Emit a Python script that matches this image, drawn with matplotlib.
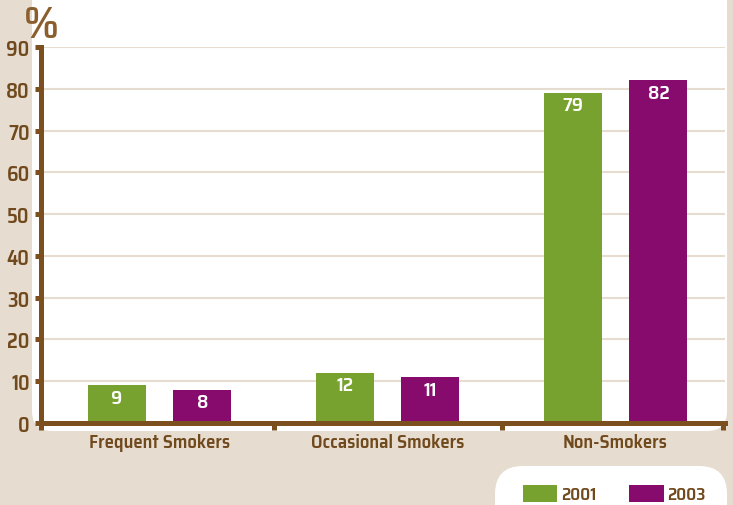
import matplotlib
matplotlib.use("Agg")
import matplotlib.pyplot as plt
from matplotlib.patches import FancyBboxPatch, Patch
import numpy as np

categories = ["Frequent Smokers", "Occasional Smokers", "Non-Smokers"]
years = ["2001", "2003"]
values_2001 = [9, 12, 79]
values_2003 = [8, 11, 82]
y_ticks = [0, 10, 20, 30, 40, 50, 60, 70, 80, 90]

BEIGE = "#e6dccf"
BROWN = "#7b4f1e"
TEXT = "#70491d"
GREEN = "#78a22f"
PURPLE = "#870b6d"

plt.rcParams["font.family"] = ["Saira SemiCondensed", "DejaVu Sans"]
plt.rcParams["font.weight"] = 600

fig = plt.figure(figsize=(7.33, 5.06), dpi=100, facecolor=BEIGE)

# white rounded panel behind the plot
panel = FancyBboxPatch((0.32, 0.74), 6.95, 5.0,
                       boxstyle="round,pad=0,rounding_size=0.2",
                       transform=fig.dpi_scale_trans, facecolor="white",
                       edgecolor="none", zorder=0)
fig.patches.append(panel)

# white pill behind the legend
legbox = FancyBboxPatch((4.95, -0.4), 2.32, 0.79,
                        boxstyle="round,pad=0,rounding_size=0.28",
                        transform=fig.dpi_scale_trans, facecolor="white",
                        edgecolor="none", zorder=0)
fig.patches.append(legbox)

ax = fig.add_axes([40.5 / 733, 82 / 506, (725 - 40.5) / 733, 376 / 506])
ax.set_facecolor("none")
ax.set_zorder(2)

x = np.arange(len(categories))
off = 0.188
w = 0.255
b1 = ax.bar(x - off, values_2001, width=w, color=GREEN, zorder=3)
b2 = ax.bar(x + off, values_2003, width=w, color=PURPLE, zorder=3)

for bars, vals in ((b1, values_2001), (b2, values_2003)):
    for rect, v in zip(bars, vals):
        ax.annotate(str(v), xy=(rect.get_x() + rect.get_width() / 2, v),
                    xytext=(0, -2.5), textcoords="offset points",
                    ha="center", va="top", color="white",
                    fontsize=14, fontweight=600, zorder=4)

ax.set_xlim(-0.522, 2.48)
ax.set_ylim(0, 90)
ax.set_yticks(y_ticks)
ax.set_yticklabels([str(t) for t in y_ticks])
ax.set_xticks(x)
ax.set_xticklabels(categories)
ax.set_xticks([-0.522, 0.5, 1.5, 2.47], minor=True)

ax.tick_params(axis="y", direction="out", length=4.3, width=3.6, color=BROWN,
               labelcolor=TEXT, labelsize=14.5, pad=3.5)
ax.tick_params(axis="x", which="major", length=0, labelcolor=TEXT,
               labelsize=13.5, pad=7.5)
ax.tick_params(axis="x", which="minor", direction="out", length=5,
               width=3.6, color=BROWN)

ax.grid(axis="y", color=BEIGE, linewidth=1.5)
ax.set_axisbelow(True)

for s in ("top", "right"):
    ax.spines[s].set_visible(False)
for s in ("left", "bottom"):
    ax.spines[s].set_color(BROWN)
    ax.spines[s].set_linewidth(3.6)
    ax.spines[s].set_capstyle("projecting")
    ax.spines[s].set_zorder(5)

fig.text(24 / 733, 1 - 5 / 506, "%", fontsize=32, fontweight=600,
         color="#8b5e2e", ha="left", va="top")

handles = [Patch(facecolor=GREEN), Patch(facecolor=PURPLE)]
leg = fig.legend(handles, years, loc="lower left",
                 bbox_to_anchor=(514 / 733, -6 / 506), ncol=2, frameon=False,
                 fontsize=12.5, handlelength=2.0, handleheight=1.2,
                 handletextpad=0.2, columnspacing=1.9, labelcolor=TEXT,
                 borderaxespad=0.1)
leg.set_zorder(3)

fig.savefig("out.png", dpi=100, facecolor=BEIGE)
